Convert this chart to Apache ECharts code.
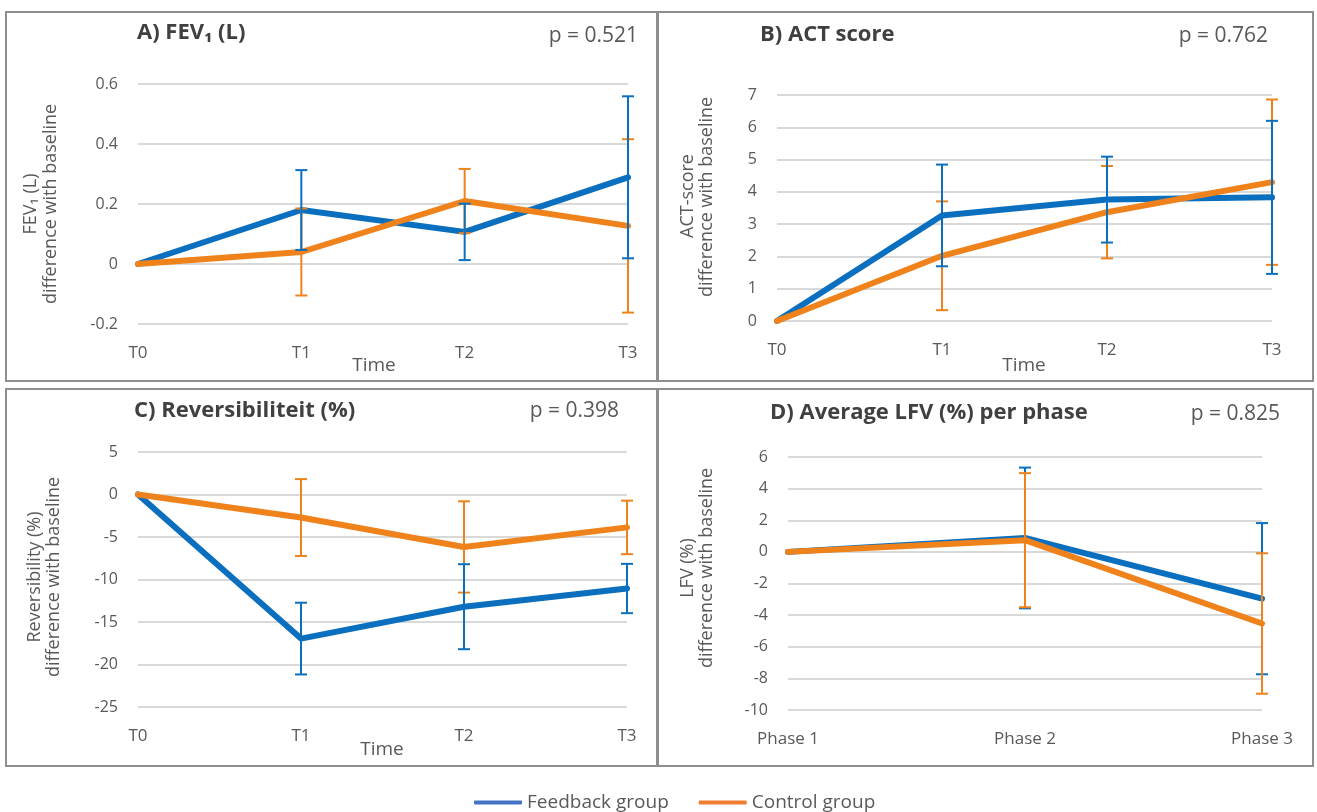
<!DOCTYPE html>
<html>
<head>
<meta charset="utf-8">
<script src="https://cdn.jsdelivr.net/npm/echarts@6/dist/echarts.min.js"></script>
<style>
html,body{margin:0;padding:0;background:#fff;}
#chart{width:1317px;height:812px;}
</style>
</head>
<body>
<div id="chart"></div>
<script>
// ---- categories ----
const timeCats = ['T0', 'T1', 'T2', 'T3'];
const phaseCats = ['Phase 1', 'Phase 2', 'Phase 3'];

// ---- A) FEV1 ----
const fevFeedback    = [0, 0.18, 0.107, 0.289];
const fevFeedbackErr = [0, 0.133, 0.094, 0.27];
const fevControl     = [0, 0.04, 0.21, 0.127];
const fevControlErr  = [0, 0.145, 0.107, 0.289];
const fevTicks = [-0.2, 0, 0.2, 0.4, 0.6];

// ---- B) ACT score ----
const actFeedback    = [0, 3.27, 3.76, 3.83];
const actFeedbackErr = [0, 1.575, 1.33, 2.37];
const actControl     = [0, 2.02, 3.37, 4.30];
const actControlErr  = [0, 1.685, 1.43, 2.56];
const actTicks = [0, 1, 2, 3, 4, 5, 6, 7];

// ---- C) Reversibility ----
const revFeedback    = [0, -16.95, -13.2, -11.06];
const revFeedbackErr = [0, 4.22, 5.0, 2.9];
const revControl     = [0, -2.71, -6.17, -3.87];
const revControlErr  = [0, 4.52, 5.37, 3.15];
const revTicks = [-25, -20, -15, -10, -5, 0, 5];

// ---- D) LFV ----
const lfvFeedback    = [0, 0.88, -2.96];
const lfvFeedbackErr = [0, 4.45, 4.78];
const lfvControl     = [0, 0.74, -4.53];
const lfvControlErr  = [0, 4.24, 4.44];
const lfvTicks = [-10, -8, -6, -4, -2, 0, 2, 4, 6];

// ---- texts ----
const seriesNames = ['Feedback group', 'Control group'];
const pValues = ['p = 0.521', 'p = 0.762', 'p = 0.398', 'p = 0.825'];

const BLUE = '#0A6FBE';
const ORANGE = '#F0821C';
const FONT = 'Open Sans';
const TXT = '#595959';

const grids = [
  {left: 138, top: 84, width: 490, height: 240},
  {left: 777, top: 95, width: 495, height: 226},
  {left: 138, top: 452, width: 489, height: 255},
  {left: 788, top: 457, width: 474, height: 253}
];

function yAxis(gi, ticks) {
  return {
    type: 'value', gridIndex: gi,
    min: ticks[0], max: ticks[ticks.length - 1],
    interval: ticks[1] - ticks[0],
    axisLine: {show: false}, axisTick: {show: false},
    axisLabel: {fontSize: 16, color: TXT, margin: 20, fontFamily: FONT},
    splitLine: {lineStyle: {color: '#D9D9D9', width: 2}}
  };
}
function xAxis(gi, cats) {
  return {
    type: 'category', gridIndex: gi, data: cats, boundaryGap: false,
    axisLine: {show: false}, axisTick: {show: false}, splitLine: {show: false},
    axisLabel: {fontSize: 17, color: TXT, margin: 21, fontFamily: FONT}
  };
}
function errData(means, errs) {
  const out = [];
  means.forEach((m, i) => { if (errs[i] > 0) out.push([i, m - errs[i], m + errs[i]]); });
  return out;
}
function errRender(color) {
  return function (params, api) {
    const i = api.value(0);
    const lo = api.coord([i, api.value(1)]);
    const hi = api.coord([i, api.value(2)]);
    const w = 6;
    const st = {stroke: color, lineWidth: 2};
    return {
      type: 'group',
      children: [
        {type: 'line', shape: {x1: lo[0], y1: lo[1], x2: hi[0], y2: hi[1]}, style: st},
        {type: 'line', shape: {x1: lo[0] - w, y1: lo[1], x2: lo[0] + w, y2: lo[1]}, style: st},
        {type: 'line', shape: {x1: hi[0] - w, y1: hi[1], x2: hi[0] + w, y2: hi[1]}, style: st}
      ]
    };
  };
}
function lineSeries(gi, name, data, color, width, z) {
  return {
    type: 'line', name: name, xAxisIndex: gi, yAxisIndex: gi, data: data,
    symbol: 'none', z: z,
    lineStyle: {color: color, width: width, cap: 'round', join: 'round'},
    itemStyle: {color: color}
  };
}
function errSeries(gi, name, means, errs, color, z) {
  return {
    type: 'custom', name: name, xAxisIndex: gi, yAxisIndex: gi,
    data: errData(means, errs), renderItem: errRender(color), z: z,
    silent: true, clip: false
  };
}

const panelData = [
  [fevFeedback, fevFeedbackErr, fevControl, fevControlErr, false],
  [actFeedback, actFeedbackErr, actControl, actControlErr, false],
  [revFeedback, revFeedbackErr, revControl, revControlErr, false],
  [lfvFeedback, lfvFeedbackErr, lfvControl, lfvControlErr, true]
];
const series = [];
panelData.forEach((p, gi) => {
  const orangeTop = p[4];
  series.push(lineSeries(gi, seriesNames[0], p[0], BLUE, 6, 2));
  series.push(lineSeries(gi, seriesNames[1], p[2], ORANGE, 6, 3));
  series.push(errSeries(gi, seriesNames[0], p[0], p[1], BLUE, orangeTop ? 4 : 5));
  series.push(errSeries(gi, seriesNames[1], p[2], p[3], ORANGE, orangeTop ? 5 : 4));
});

function txt(x, y, text, opt) {
  return {
    type: 'text', x: x, y: y, silent: true,
    style: Object.assign({text: text, fill: TXT, font: '16px "' + FONT + '"',
      align: 'center', verticalAlign: 'middle'}, opt || {})
  };
}
function rot(x, y, text) {
  return {
    type: 'text', x: x, y: y, rotation: Math.PI / 2, silent: true,
    style: {text: text, fill: TXT, font: '18px "' + FONT + '"', align: 'center', verticalAlign: 'middle'}
  };
}
const TITLE_FONT = 'bold 22px "' + FONT + '"';
const P_FONT = '21px "' + FONT + '"';
const TIME_FONT = '19px "' + FONT + '"';
const boxStyle = {fill: 'none', stroke: '#8E8E8E', lineWidth: 2};

const graphic = [
  {type: 'rect', shape: {x: 6, y: 12, width: 651, height: 369}, style: boxStyle, silent: true},
  {type: 'rect', shape: {x: 658, y: 12, width: 655, height: 369}, style: boxStyle, silent: true},
  {type: 'rect', shape: {x: 6, y: 389, width: 651, height: 377}, style: boxStyle, silent: true},
  {type: 'rect', shape: {x: 658, y: 389, width: 655, height: 377}, style: boxStyle, silent: true},
  // titles
  txt(137, 33, 'A) FEV\u2081 (L)', {align: 'left', font: TITLE_FONT, fill: '#404040'}),
  txt(760, 35, 'B) ACT score', {align: 'left', font: TITLE_FONT, fill: '#404040'}),
  txt(134, 411, 'C) Reversibiliteit (%)', {align: 'left', font: TITLE_FONT, fill: '#404040'}),
  txt(770, 413, 'D) Average LFV (%) per phase', {align: 'left', font: TITLE_FONT, fill: '#404040'}),
  // p values
  txt(638, 36, pValues[0], {align: 'right', font: P_FONT}),
  txt(1268, 36, pValues[1], {align: 'right', font: P_FONT}),
  txt(619, 411, pValues[2], {align: 'right', font: P_FONT}),
  txt(1280, 414, pValues[3], {align: 'right', font: P_FONT}),
  // x axis names
  txt(374, 366, 'Time', {font: TIME_FONT}),
  txt(1024, 366, 'Time', {font: TIME_FONT}),
  txt(382, 750, 'Time', {font: TIME_FONT}),
  // y axis names
  rot(31, 204, 'FEV\u2081 (L)'), rot(51, 204, 'difference with baseline'),
  rot(688, 196, 'ACT-score'), rot(707, 197, 'difference with baseline'),
  rot(35, 577, 'Reversibility (%)'), rot(54, 577, 'difference with baseline'),
  rot(688, 568, 'LFV (%)'), rot(707, 568, 'difference with baseline')
];

const chart = echarts.init(document.getElementById('chart'), null, {renderer: 'canvas'});
chart.setOption({
  backgroundColor: '#ffffff',
  animation: false,
  grid: grids,
  xAxis: [xAxis(0, timeCats), xAxis(1, timeCats), xAxis(2, timeCats), xAxis(3, phaseCats)],
  yAxis: [yAxis(0, fevTicks), yAxis(1, actTicks), yAxis(2, revTicks), yAxis(3, lfvTicks)],
  legend: {
    left: 469, top: 788, itemWidth: 48, itemHeight: 4, itemGap: 30,
    selectedMode: false,
    textStyle: {fontSize: 19, color: TXT, fontFamily: FONT},
    data: [
      {name: seriesNames[0], icon: 'roundRect', itemStyle: {color: '#4472C4'}, lineStyle: {color: '#4472C4'}},
      {name: seriesNames[1], icon: 'roundRect', itemStyle: {color: '#ED7D31'}, lineStyle: {color: '#ED7D31'}}
    ]
  },
  graphic: graphic,
  series: series
});
</script>
</body>
</html>
